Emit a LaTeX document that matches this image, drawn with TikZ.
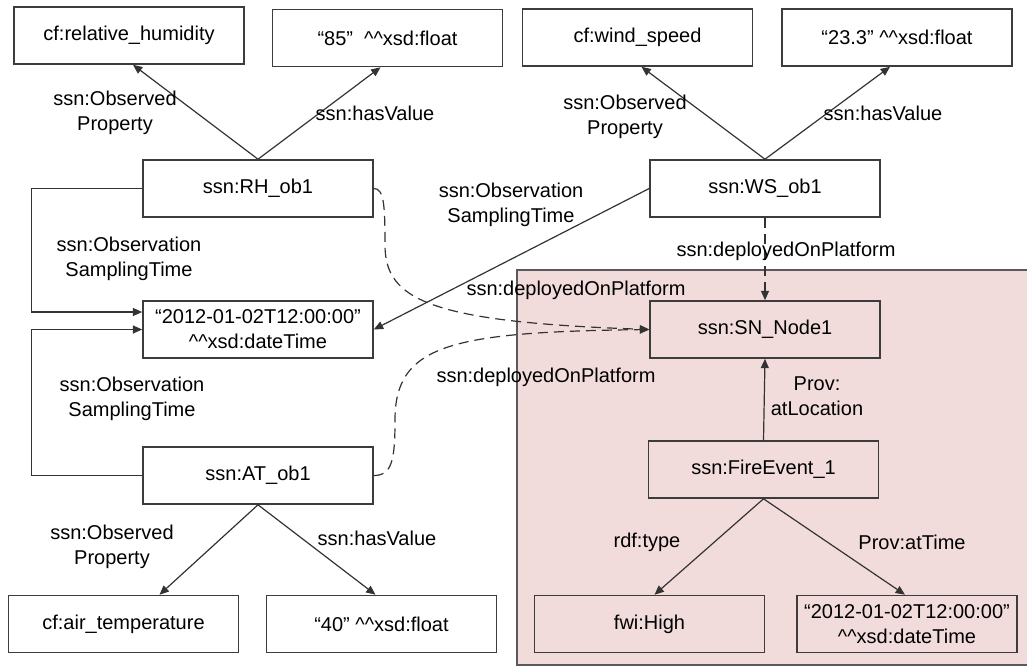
\documentclass[tikz,border=0pt]{standalone}
\usepackage{fontspec}
\setmainfont{Liberation Sans}
\usetikzlibrary{arrows.meta,calc}
\definecolor{platform}{HTML}{F2DCDB}
\definecolor{platformline}{HTML}{5A5A5A}
\definecolor{boxline}{HTML}{3C3C3C}
\definecolor{edge}{HTML}{333333}
\newcommand{\carets}{\textasciicircum\textasciicircum}
\begin{document}
\begin{tikzpicture}[x=0.75pt,y=-0.75pt,
  every node/.style={font=\fontsize{15pt}{18.75pt}\selectfont, text=black},
  box/.style={draw=boxline, line width=1.2pt, fill=white, minimum width=172.5pt,
    minimum height=42.75pt, align=center, inner sep=0pt},
  inbox/.style={box, fill=none},
  lbl/.style={align=center, inner sep=0pt},
  rel/.style={draw=edge, line width=0.9pt, -{Triangle[length=7pt,width=6pt]}},
  link/.style={rel, dash pattern=on 7.5pt off 4.5pt}]
\useasboundingbox (0,0) rectangle (1027,668);

% platform region
\path[fill=platform, draw=platformline, line width=1.2pt] (517,270) rectangle (1035,665);

% observation, property and value nodes
\node[box] (relhum) at (129,35.5) {cf:relative\_humidity};
\node[box] (v85) at (387.5,38) {“85”\ \ \carets xsd:float};
\node[box] (wind) at (637.5,37.5) {cf:wind\_speed};
\node[box] (v233) at (897,37.5) {“23.3” \carets xsd:float};
\node[box] (rh) at (258,188.5) {ssn:RH\_ob1};
\node[box] (ws) at (765,188.5) {ssn:WS\_ob1};
\node[box] (dt1) at (258,329.5) {“2012-01-02T12:00:00”\\\carets xsd:dateTime};
\node[box] (at) at (258,475.5) {ssn:AT\_ob1};
\node[box] (airt) at (123.5,624) {cf:air\_temperature};
\node[box] (v40) at (381.5,624) {“40” \carets xsd:float};

% platform nodes
\node[inbox] (sn) at (765,329.5) {ssn:SN\_Node1};
\node[inbox] (fire) at (763.5,469.5) {ssn:FireEvent\_1};
\node[inbox] (high) at (649.5,624) {fwi:High};
\node[inbox, minimum width=165pt] (dt2) at (907,624) {“2012-01-02T12:00:00”\\\carets xsd:dateTime};

% observed properties and values
\draw[rel] (rh.north) -- ($(relhum.south)+(4,0)$);
\draw[rel] (rh.north) -- ($(v85.south)+(-7,0)$);
\draw[rel] (ws.north) -- ($(wind.south)+(4,0)$);
\draw[rel] (ws.north) -- ($(v233.south)+(-7,0)$);
\draw[rel] (at.south) -- ($(airt.north)+(36,0)$);
\draw[rel] (at.south) -- ($(v40.north)+(-6,0)$);

% sampling times
\draw[rel] (rh.west) -- ++(-111,0) |- ($(dt1.west)+(0,-17.5)$);
\draw[rel] (at.west) -- ++(-111,0) |- (dt1.west);
\draw[rel] (ws.west) -- (dt1.east);

% platform links
\draw[link] (rh.east) .. controls (384,188.5) and (385,205) .. (385,245)
  .. controls (385,300) and (430,322) .. (sn.west);
\draw[link] (at.east) .. controls (392,475.5) and (395,460) .. (395,420)
  .. controls (395,345) and (450,332) .. (sn.west);
\draw[link] (ws.south) -- (sn.north);

% fire event
\draw[rel] (fire.north) -- (sn.south);
\draw[rel] (fire.south) -- ($(high.north)+(5,0)$);
\draw[rel] (fire.south) -- ($(dt2.north)+(-2,0)$);

% edge labels
\node[lbl] (l1) at (115,112.5) {ssn:Observed\\Property};
\node[lbl] (l2) at (375,113) {ssn:hasValue};
\node[lbl] (l3) at (625,116.5) {ssn:Observed\\Property};
\node[lbl] (l4) at (883,113) {ssn:hasValue};
\node[lbl] (l5) at (129,258.5) {ssn:Observation\\SamplingTime};
\node[lbl] (l6) at (132,398.5) {ssn:Observation\\SamplingTime};
\node[lbl] (l7) at (511,204.5) {ssn:Observation\\SamplingTime};
\node[lbl] (l8) at (576,290) {ssn:deployedOnPlatform};
\node[lbl] (l9) at (546,377) {ssn:deployedOnPlatform};
\node[lbl] (l10) at (786,251) {ssn:deployedOnPlatform};
\node[lbl] (l11) at (817,396.5) {Prov:\\atLocation};
\node[lbl] (l12) at (647,542) {rdf:type};
\node[lbl] (l13) at (912,542) {Prov:atTime};
\node[lbl] (l14) at (112,547) {ssn:Observed\\Property};
\node[lbl] (l15) at (377,538) {ssn:hasValue};
\end{tikzpicture}
\end{document}
